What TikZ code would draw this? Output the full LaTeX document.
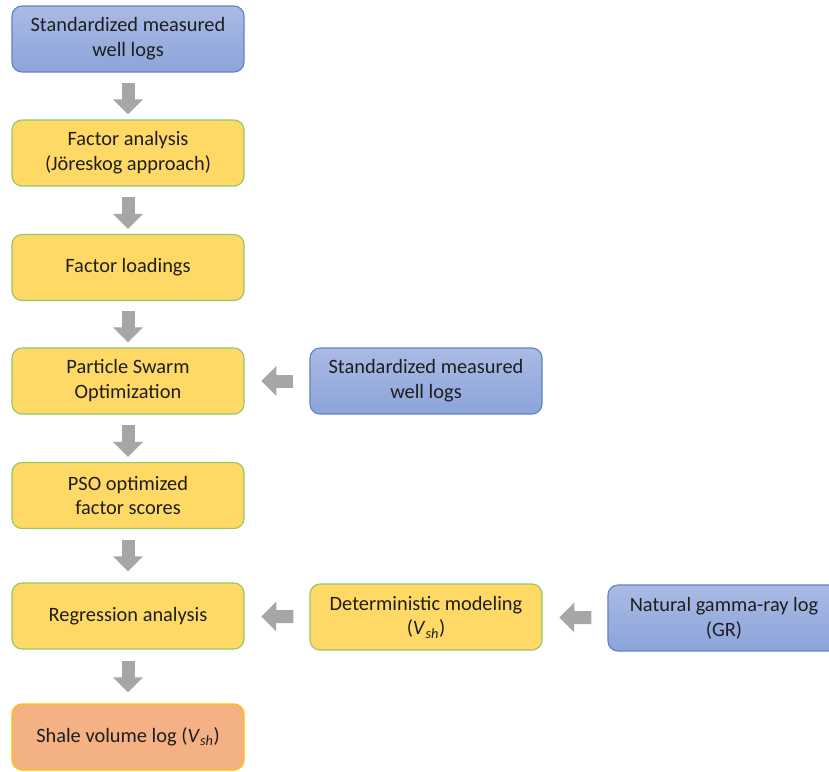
\documentclass[tikz,border=0pt]{standalone}
\usepackage{fontspec}
\setmainfont{Carlito}
\usepackage{tikz}
\usetikzlibrary{positioning, arrows.meta}

\definecolor{logtop}{RGB}{170,186,228}
\definecolor{logbottom}{RGB}{140,164,218}
\definecolor{logborder}{RGB}{100,130,200}
\definecolor{stepfill}{RGB}{255,217,102}
\definecolor{stepborder}{RGB}{150,200,100}
\definecolor{resultfill}{RGB}{244,177,131}
\definecolor{resultborder}{RGB}{255,192,0}
\definecolor{arrowgray}{RGB}{166,166,166}
\definecolor{textdark}{RGB}{30,30,30}

\tikzset{
  box/.style={draw, rounded corners=0.3cm, minimum width=6.96cm, minimum height=1.98cm,
    align=center, line width=1pt, text=textdark, font=\fontsize{17.4}{21.3}\selectfont},
  inputbox/.style={box, draw=logborder, top color=logtop, bottom color=logbottom},
  stepbox/.style={box, draw=stepborder, fill=stepfill},
  resultbox/.style={box, draw=resultborder, fill=resultfill},
  flow/.style={draw=arrowgray, line width=0.39cm,
    -{Triangle[length=0.45cm 0, width=0.87cm 0]}},
}

\newcommand{\vsh}{\textit{V}\textsubscript{\textit{sh}}}

\begin{document}
\begin{tikzpicture}[x=0.03cm, y=-0.03cm]
  \useasboundingbox (0,0) rectangle (829,771);

  % main column
  \node[inputbox] (logs) at (128,39) {Standardized measured\\well logs};
  \node[stepbox] (factor) at (128,153) {Factor analysis\\(Jöreskog approach)};
  \node[stepbox] (loadings) at (128,267.5) {Factor loadings};
  \node[stepbox] (pso) at (128,381) {Particle Swarm\\Optimization};
  \node[stepbox] (scores) at (128,495.5) {PSO optimized\\factor scores};
  \node[stepbox] (regression) at (128,616) {Regression analysis};
  \node[resultbox] (shale) at (128,737) {Shale volume log (\vsh)};

  % side inputs
  \node[inputbox] (logsb) at (426,381) {Standardized measured\\well logs};
  \node[stepbox] (determ) at (426,617) {Deterministic modeling\\(\vsh)};
  \node[inputbox] (gamma) at (724,618) {Natural gamma-ray log\\(GR)};

  \draw[flow, shorten <=0.3cm, shorten >=0.15cm] (logs) -- (factor);
  \draw[flow, shorten <=0.3cm, shorten >=0.15cm] (factor) -- (loadings);
  \draw[flow, shorten <=0.3cm, shorten >=0.15cm] (loadings) -- (pso);
  \draw[flow, shorten <=0.3cm, shorten >=0.15cm] (pso) -- (scores);
  \draw[flow, shorten <=0.33cm, shorten >=0.33cm] (scores) -- (regression);
  \draw[flow, shorten <=0.33cm, shorten >=0.33cm] (regression) -- (shale);

  \draw[flow, shorten <=0.48cm, shorten >=0.5cm] (logsb) -- (pso);
  \draw[flow, shorten <=0.48cm, shorten >=0.5cm] (determ) -- (regression);
  \draw[flow, shorten <=0.48cm, shorten >=0.5cm] (gamma) -- (determ);
\end{tikzpicture}
\end{document}
